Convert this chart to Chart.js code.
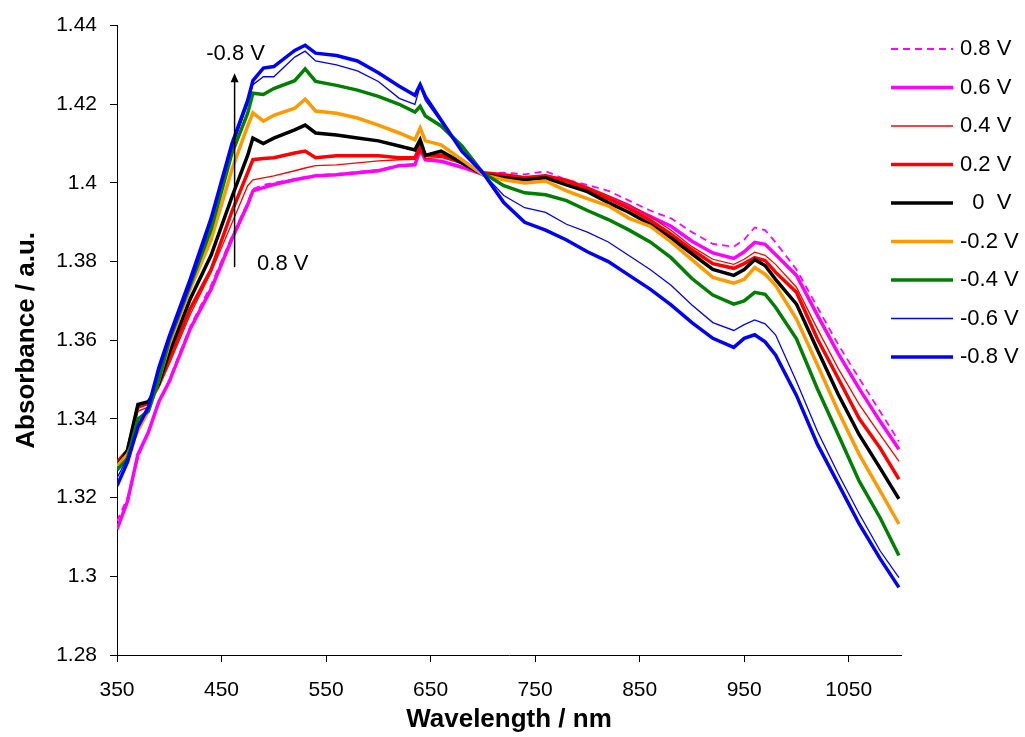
<!DOCTYPE html>
<html><head><meta charset="utf-8">
<script src="https://cdn.jsdelivr.net/npm/chart.js@4/dist/chart.umd.min.js"></script>
<style>html,body{margin:0;padding:0;background:#fff;}#wrap{width:1025px;height:737px;position:relative;}</style>
</head><body><div id="wrap"><canvas id="c" width="1025" height="737"></canvas></div>
<script>
// ---- data ----
const wavelengths = [350,360,370,380,390,400,420,440,460,475,480,490,500,520,530,540,560,580,600,620,635,640,645,660,680,700,720,740,760,780,800,820,840,860,880,900,920,940,950,960,970,980,1000,1020,1040,1060,1080,1098];

const seriesLabels = ['0.8 V','0.6 V','0.4 V','0.2 V','  0  V','-0.2 V','-0.4 V','-0.6 V','-0.8 V'];

const absP08 = [1.314,1.320,1.330,1.337,1.344,1.350,1.3635,1.374,1.3865,1.395,1.3985,1.3995,1.400,1.401,1.4015,1.402,1.4023,1.4028,1.4033,1.4045,1.4048,1.4082,1.406,1.4057,1.4042,1.4024,1.4026,1.4022,1.403,1.4008,1.3995,1.398,1.3955,1.393,1.391,1.3875,1.3845,1.3838,1.3856,1.3887,1.388,1.3849,1.378,1.3684,1.3589,1.3503,1.3419,1.3343];
const absP06 = [1.312,1.319,1.331,1.3366,1.3444,1.3495,1.3629,1.373,1.3858,1.3945,1.398,1.3988,1.3996,1.4008,1.4013,1.4018,1.4021,1.4026,1.4031,1.4044,1.4046,1.4084,1.4059,1.4055,1.404,1.4022,1.4015,1.4013,1.4015,1.4005,1.3985,1.3963,1.394,1.3915,1.389,1.3852,1.3822,1.3808,1.3825,1.3849,1.3844,1.3818,1.3765,1.3664,1.3566,1.3477,1.3394,1.3323];
const absP04 = [1.329,1.331,1.342,1.343,1.348,1.354,1.3665,1.3773,1.3898,1.3993,1.4008,1.4013,1.4018,1.4031,1.4038,1.4044,1.4046,1.4051,1.4056,1.4059,1.406,1.4081,1.4062,1.4065,1.405,1.4025,1.4022,1.4015,1.402,1.401,1.399,1.3968,1.3945,1.3915,1.388,1.3838,1.3806,1.3793,1.3806,1.3824,1.3816,1.3793,1.3735,1.3629,1.3528,1.3437,1.336,1.3293];
const absP02 = [1.329,1.332,1.343,1.344,1.3487,1.3553,1.368,1.378,1.3928,1.4026,1.4059,1.4062,1.4064,1.4076,1.4081,1.4064,1.4069,1.4069,1.4069,1.4064,1.4064,1.4094,1.4069,1.4071,1.4051,1.4026,1.4021,1.4013,1.4018,1.4005,1.3985,1.396,1.3935,1.3905,1.387,1.383,1.3795,1.3783,1.3795,1.381,1.3803,1.3773,1.3722,1.3604,1.3503,1.3401,1.3326,1.3247];
const abs0 = [1.328,1.332,1.3437,1.3444,1.349,1.357,1.3705,1.3816,1.3965,1.407,1.4114,1.410,1.4114,1.4135,1.4147,1.4127,1.4122,1.4114,1.4107,1.4094,1.4084,1.411,1.407,1.4081,1.4051,1.4021,1.4013,1.4008,1.4013,1.3995,1.3978,1.395,1.3925,1.3895,1.386,1.382,1.378,1.3765,1.378,1.3805,1.379,1.3755,1.3692,1.3576,1.3462,1.336,1.3275,1.3197];
const absM02 = [1.328,1.331,1.337,1.342,1.350,1.359,1.373,1.3856,1.4035,1.4145,1.4178,1.4157,1.4172,1.419,1.4213,1.4183,1.4177,1.4165,1.4147,1.4127,1.411,1.414,1.4107,1.4097,1.4059,1.4021,1.4008,1.400,1.4005,1.398,1.396,1.3942,1.391,1.389,1.385,1.3805,1.376,1.3745,1.3755,1.3785,1.3768,1.374,1.3654,1.3538,1.3419,1.331,1.3217,1.3133];
const absM04 = [1.327,1.330,1.340,1.342,1.350,1.360,1.374,1.3882,1.4076,1.4177,1.4228,1.4225,1.424,1.426,1.429,1.4258,1.4248,1.4236,1.422,1.420,1.418,1.4195,1.417,1.4145,1.4094,1.4026,1.3993,1.3975,1.397,1.3955,1.393,1.3907,1.388,1.385,1.381,1.3757,1.3715,1.3692,1.370,1.3722,1.3717,1.3684,1.3604,1.3477,1.336,1.3242,1.3149,1.3053];
const absM06 = [1.325,1.330,1.338,1.343,1.352,1.360,1.374,1.390,1.409,1.420,1.425,1.427,1.427,1.432,1.4335,1.431,1.430,1.4285,1.4258,1.4215,1.420,1.4246,1.421,1.4155,1.408,1.4025,1.3968,1.3937,1.3925,1.3895,1.3875,1.385,1.3815,1.378,1.374,1.369,1.3645,1.3625,1.364,1.3652,1.3642,1.3614,1.3495,1.3369,1.326,1.3159,1.3065,1.2997];
const absM08 = [1.323,1.329,1.338,1.343,1.353,1.361,1.3755,1.391,1.410,1.421,1.426,1.4292,1.4296,1.4337,1.435,1.433,1.4324,1.431,1.428,1.4246,1.4223,1.425,1.422,1.416,1.408,1.4026,1.395,1.390,1.388,1.3855,1.3825,1.380,1.3765,1.373,1.369,1.3645,1.3605,1.3582,1.3605,1.3614,1.3596,1.3563,1.346,1.3336,1.3235,1.3133,1.3045,1.2972];

const xTickValues = [350,450,550,650,750,850,950,1050];
const yTickValues = [1.28,1.30,1.32,1.34,1.36,1.38,1.40,1.42,1.44];

// ---- styles ----
const seriesValues = [absP08,absP06,absP04,absP02,abs0,absM02,absM04,absM06,absM08];
const seriesColors = ['#FF00FF','#FF00FF','#FF0000','#FF0000','#000000','#FF9900','#008000','#0000FF','#0000FF'];
const seriesWidths = [1.8,3.5,1.3,3.5,3.5,3.5,3.5,1.3,3.5];
const seriesDash = [[7,5],[],[],[],[],[],[],[],[]];

const FONT = "'Liberation Sans', Arial, sans-serif";

const datasets = seriesValues.map((vals, i) => ({
  label: seriesLabels[i],
  data: wavelengths.map((w, j) => ({x: w, y: vals[j]})),
  borderColor: seriesColors[i],
  backgroundColor: seriesColors[i],
  borderWidth: seriesWidths[i],
  borderDash: seriesDash[i],
  pointRadius: 0,
  tension: 0,
  fill: false,
  order: seriesValues.length - i
}));

const legendPlugin = {
  id: 'sideLegend',
  afterDraw(chart) {
    const ctx = chart.ctx;
    const x0 = chart.chartArea.right - 10, x1 = x0 + 62, tx = x1 + 7;
    ctx.save();
    ctx.font = '22px ' + FONT;
    ctx.textBaseline = 'middle';
    ctx.textAlign = 'left';
    chart.data.datasets.forEach((ds, i) => {
      const y = 49 + i * 38.5;
      ctx.beginPath();
      ctx.strokeStyle = ds.borderColor;
      ctx.lineWidth = ds.borderWidth;
      ctx.setLineDash(ds.borderDash || []);
      ctx.moveTo(x0, y); ctx.lineTo(x1, y);
      ctx.stroke();
      ctx.setLineDash([]);
      ctx.fillStyle = '#000';
      ctx.fillText(ds.label, tx, y);
    });
    ctx.restore();
  }
};

const arrowPlugin = {
  id: 'arrowNote',
  afterDatasetsDraw(chart) {
    const {ctx, scales: {x, y}} = chart;
    const ax = x.getPixelForValue(462.5);
    const yBot = y.getPixelForValue(1.3786);
    const yTop = y.getPixelForValue(1.4279);
    ctx.save();
    ctx.strokeStyle = '#000'; ctx.fillStyle = '#000'; ctx.lineWidth = 1.5;
    ctx.beginPath(); ctx.moveTo(ax, yBot); ctx.lineTo(ax, yTop + 6); ctx.stroke();
    ctx.beginPath(); ctx.moveTo(ax, yTop); ctx.lineTo(ax - 4, yTop + 9); ctx.lineTo(ax + 4, yTop + 9); ctx.closePath(); ctx.fill();
    ctx.font = '22px ' + FONT;
    ctx.textBaseline = 'middle';
    ctx.textAlign = 'center';
    ctx.fillText('-0.8 V', x.getPixelForValue(463.5), y.getPixelForValue(1.4329));
    ctx.textAlign = 'left';
    ctx.fillText('0.8 V', x.getPixelForValue(484), y.getPixelForValue(1.3793));
    ctx.restore();
  }
};

new Chart(document.getElementById('c'), {
  type: 'line',
  data: {datasets},
  options: {
    responsive: false,
    animation: false,
    devicePixelRatio: 1,
    layout: {padding: {top: 22, right: 124, bottom: 0, left: 0}},
    plugins: {legend: {display: false}, tooltip: {enabled: false}},
    scales: {
      x: {
        type: 'linear', min: 350, max: 1100,
        afterBuildTicks: s => { s.ticks = xTickValues.map(v => ({value: v})); },
        afterFit: s => { s.height = 82; },
        ticks: {autoSkip: false, maxRotation: 0, color: '#000', padding: 16, font: {family: FONT, size: 21}, callback: v => String(v)},
        grid: {drawOnChartArea: false, drawTicks: true, tickLength: 7, color: '#000', lineWidth: 1},
        border: {color: '#000', width: 1},
        title: {display: true, text: 'Wavelength / nm', color: '#000', font: {family: FONT, size: 26, weight: 'bold'}, padding: {top: 0, bottom: 2}}
      },
      y: {
        type: 'linear', min: 1.28, max: 1.44,
        afterBuildTicks: s => { s.ticks = yTickValues.map(v => ({value: v})); },
        afterFit: s => { s.width = 117; },
        ticks: {color: '#000', padding: 13, font: {family: FONT, size: 21}, callback: v => String(Number(v.toFixed(2)))},
        grid: {drawOnChartArea: false, drawTicks: true, tickLength: 7, color: '#000', lineWidth: 1},
        border: {color: '#000', width: 1},
        title: {display: true, text: 'Absorbance / a.u.', color: '#000', font: {family: FONT, size: 26, weight: 'bold'}, padding: {top: 11, bottom: 0}}
      }
    }
  },
  plugins: [legendPlugin, arrowPlugin]
});
</script></body></html>
